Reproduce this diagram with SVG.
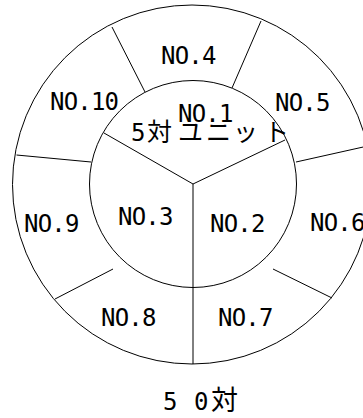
<svg xmlns="http://www.w3.org/2000/svg" width="363" height="418" viewBox="0 0 363 418">
<style>
.ln{fill:none;stroke:#000;stroke-width:1}
.t{font-family:"DejaVu Sans Mono","Noto Sans CJK JP",monospace;font-size:24px;fill:#000;letter-spacing:-0.8px}
.j{font-family:"DejaVu Sans Mono","Noto Sans CJK JP",monospace;font-size:24px;fill:#000}
.k{font-family:"Noto Sans CJK JP",sans-serif}
</style>
<rect width="363" height="418" fill="#fff"/>
<g id="outer-ring"><circle class="ln" cx="192" cy="184.5" r="179.5"/></g>
<g id="inner-circle"><circle class="ln" cx="193" cy="184" r="103.5"/></g>
<g id="connectors">
<line class="ln" x1="193" y1="184" x2="104" y2="133"/>
<line class="ln" x1="193" y1="184" x2="285" y2="140"/>
<line class="ln" x1="193" y1="184" x2="193" y2="364"/>
<line class="ln" x1="145" y1="92" x2="112" y2="27"/>
<line class="ln" x1="232" y1="88" x2="261" y2="21"/>
<line class="ln" x1="296" y1="162" x2="370" y2="145.5"/>
<line class="ln" x1="91" y1="162" x2="16.5" y2="155"/>
<line class="ln" x1="113" y1="269" x2="55" y2="299"/>
<line class="ln" x1="273" y1="269" x2="332" y2="298"/>
</g>
<g id="n1"><text class="t" x="178" y="121.5">NO.1</text></g>
<g id="n2"><text class="t" x="210" y="232">NO.2</text></g>
<g id="n3"><text class="t" x="118" y="225">NO.3</text></g>
<g id="n4"><text class="t" x="161" y="64">NO.4</text></g>
<g id="n5"><text class="t" x="275" y="111">NO.5</text></g>
<g id="n6"><text class="t" x="310" y="231">NO.6</text></g>
<g id="n7"><text class="t" x="218" y="325.5">NO.7</text></g>
<g id="n8"><text class="t" x="101" y="325.5">NO.8</text></g>
<g id="n9"><text class="t" x="24" y="232">NO.9</text></g>
<g id="n10"><text class="t" x="50" y="110">NO.10</text></g>
<g id="unit"><text class="j" y="141"><tspan x="131">5</tspan><tspan class="k" font-size="25" x="147 178 206 233 264">対ユニット</tspan></text></g>
<g id="total"><text class="j" y="410"><tspan x="163 194">50</tspan><tspan class="k" font-size="27" x="211">対</tspan></text></g>
</svg>
